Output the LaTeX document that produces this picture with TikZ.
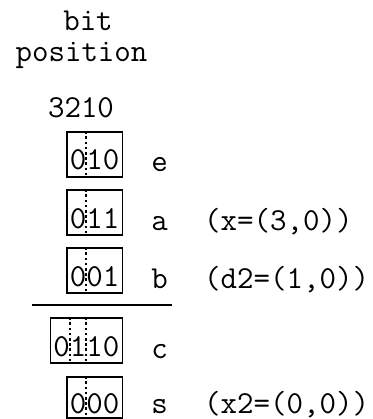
\documentclass[tikz,border=0pt]{standalone}
\usepackage{fontspec}
\usetikzlibrary{calc}
\begin{document}
\begin{tikzpicture}[x=1pt,y=-1pt,
  every node/.style={font=\ttfamily\fontsize{32}{32}\selectfont, inner sep=0pt},
  bits/.style={draw, line width=1.5pt, inner xsep=3pt, inner ysep=0pt,
    text height=38pt, text depth=7pt, anchor=base east},
  cut/.style={line width=2pt, dash pattern=on 2.6pt off 2.6pt},
  rule/.style={line width=2.4pt},
  lbl/.style={anchor=base},
  note/.style={anchor=base west}]
\useasboundingbox (0,0) rectangle (372,419);

% heading
\node[lbl] (t1) at (88,31) {bit};
\node[lbl] (t2) at (81.5,62) {position};
\node[lbl] (hdr) at (81,118) {3210};

% bit vectors
\node[bits] (e) at (123,170) {010};
\node[bits] (a) at (123,228) {011};
\node[bits] (b) at (123,286) {001};
\node[bits] (c) at (123,356) {0110};
\node[bits, text height=36pt, text depth=5pt] (s) at (123,413) {000};

% dotted cuts between digit cells (cell width 16.8pt)
\foreach \n/\k in {e/2, a/2, b/2, c/2, c/3, s/2} {
  \draw[cut] ($(\n.north east)+({-3-16.8*\k},0)$) -- ($(\n.south east)+({-3-16.8*\k},0)$);
}

% sum rule
\coordinate (r1) at (32,305);
\coordinate (r2) at (172,305);
\draw[rule] (r1) -- (r2);

% names
\node[lbl] (le) at (159.5,172) {e};
\node[lbl] (la) at (159.5,230) {a};
\node[lbl] (lb) at (159.5,288) {b};
\node[lbl] (lc) at (159.5,358) {c};
\node[lbl] (ls) at (159.5,413) {s};

% remarks
\node[note] (na) at (204,230) {(x=(3,0))};
\node[note] (nb) at (204,288) {(d2=(1,0))};
\node[note] (ns) at (204,413) {(x2=(0,0))};
\end{tikzpicture}
\end{document}
